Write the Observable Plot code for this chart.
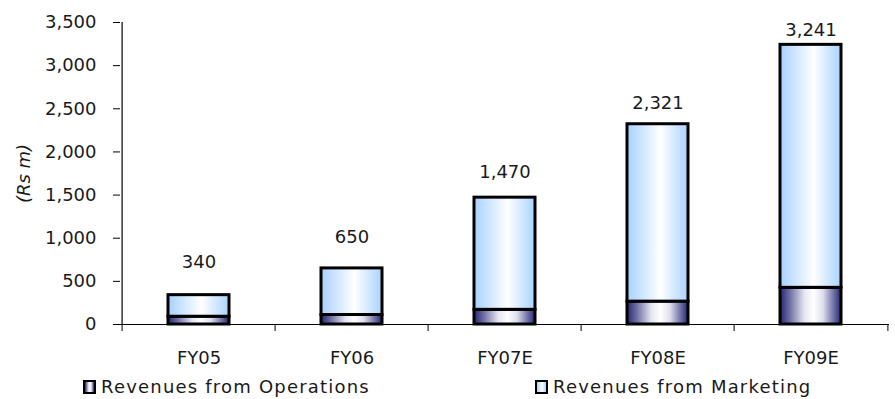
<!DOCTYPE html>
<html>
<head>
<meta charset="utf-8">
<script src="https://cdn.jsdelivr.net/npm/d3@7"></script>
<script src="https://cdn.jsdelivr.net/npm/@observablehq/plot@0.6"></script>
<style>
  html, body { margin: 0; padding: 0; background: #fff; }
  #chart { width: 895px; }
  .legend { position: relative; width: 895px; height: 27px; font-family: "DejaVu Sans", sans-serif; font-size: 18px; color: #1a1a1a; }
  .legend .item { position: absolute; top: 4px; display: flex; align-items: center; white-space: nowrap; letter-spacing: 1.2px; }
  .legend .swatch { width: 9px; height: 10px; border: 2.5px solid #000; margin-right: 5px; }
</style>
</head>
<body>
<div id="chart"></div>
<script>
// Revenue build-up by fiscal year (Rs m)
const years = ["FY05", "FY06", "FY07E", "FY08E", "FY09E"];
const totals = [340, 650, 1470, 2321, 3241];
const operations = [90, 110, 170, 265, 425];
const seriesNames = ["Revenues from Operations", "Revenues from Marketing"];
const yTicks = [0, 500, 1000, 1500, 2000, 2500, 3000, 3500];

const rows = years.map((year, i) => ({
  year,
  ops: operations[i],
  marketing: totals[i] - operations[i],
  total: totals[i]
}));

const W = 895, H = 372;
const M = {top: 22, right: 6, bottom: 48, left: 120};
const step = (W - M.left - M.right) / years.length;
const ink = "#1a1a1a";
const fmt = d3.format(",");

const gradients = {
  ops: [[0, "#262673"], [0.15, "#6a6aa0"], [0.4, "#e6e6f1"], [0.55, "#ffffff"], [0.7, "#e0e0ee"], [0.88, "#7070a6"], [1, "#262673"]],
  mkt: [[0, "#a6d1ff"], [0.25, "#cfe6ff"], [0.55, "#ffffff"], [0.8, "#cfe6ff"], [1, "#a9d3ff"]]
};

// gradient definitions used as bar fills
function defs() {
  const d = d3.create("svg:defs");
  for (const [id, stops] of Object.entries(gradients)) {
    const g = d.append("linearGradient").attr("id", id + "Grad")
      .attr("x1", 0).attr("x2", 1).attr("y1", 0).attr("y2", 0);
    for (const [o, c] of stops) g.append("stop").attr("offset", o).attr("stop-color", c);
  }
  return d.node();
}

const plot = Plot.plot({
  width: W,
  height: H,
  marginTop: M.top,
  marginRight: M.right,
  marginBottom: M.bottom,
  marginLeft: M.left,
  style: {fontFamily: "DejaVu Sans, sans-serif", fontSize: "18px", color: ink, background: "#fff"},
  x: {domain: years, paddingInner: 0.6, paddingOuter: 0.3, label: null},
  y: {domain: [0, 3500], label: null},
  marks: [
    defs,
    // stacked bars: operations at the base, marketing on top
    Plot.barY(rows, {x: "year", y1: 0, y2: "ops", fill: "url(#opsGrad)", stroke: "#000", strokeWidth: 3}),
    Plot.barY(rows, {x: "year", y1: "ops", y2: d => d.ops + d.marketing, fill: "url(#mktGrad)", stroke: "#000", strokeWidth: 3}),
    // axis lines
    Plot.ruleY([0], {stroke: "#000", strokeWidth: 1.2}),
    Plot.ruleX([years[0]], {dx: -step / 2, stroke: "#000", strokeWidth: 1.2}),
    // category boundary ticks
    Plot.axisX({tickSize: 7, dx: -step / 2, tickFormat: () => "", stroke: "#000"}),
    Plot.axisX({ticks: [years[years.length - 1]], tickSize: 7, dx: step / 2, tickFormat: () => "", stroke: "#000"}),
    // category labels
    Plot.axisX({tickSize: 0, tickPadding: 27, fill: ink, label: null}),
    Plot.axisY({ticks: yTicks, tickFormat: fmt, tickSize: 7, tickPadding: 17, fill: ink, stroke: "#000", label: null}),
    // unit title
    Plot.text(["(Rs m)"], {frameAnchor: "left", textAnchor: "middle", dx: -96, rotate: -90, fontStyle: "italic", fill: ink, fontSize: 18}),
    // total labels above each bar, tightening toward the taller bars
    Plot.text(rows, {x: "year", y: d => d.total * 0.928, dy: -35, text: d => fmt(d.total), fill: ink, fontSize: 18})
  ]
});

document.getElementById("chart").appendChild(plot);

// legend below the chart
const legend = d3.select("body").append("div").attr("class", "legend");
const legendLeft = [83, 535];
const legendGrad = [gradients.ops, gradients.mkt];
seriesNames.forEach((name, i) => {
  const item = legend.append("div").attr("class", "item").style("left", legendLeft[i] + "px");
  const css = "linear-gradient(to right, " + legendGrad[i].map(([o, c]) => c + " " + (o * 100) + "%").join(", ") + ")";
  item.append("div").attr("class", "swatch").style("background", css);
  item.append("span").text(name);
});
</script>
</body>
</html>
